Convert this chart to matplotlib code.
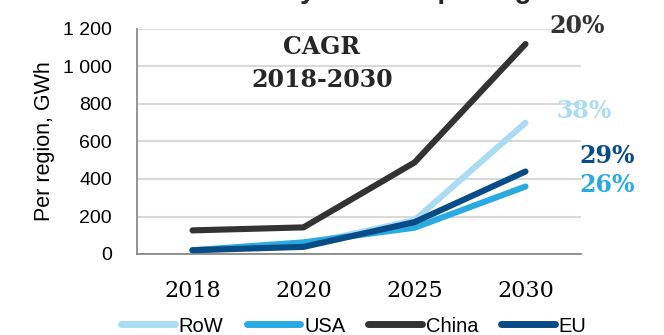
import matplotlib
matplotlib.use("Agg")
import matplotlib.pyplot as plt
import numpy as np

years = ["2018", "2020", "2025", "2030"]
row = [20, 50, 180, 700]
usa = [20, 62, 140, 360]
china = [126, 142, 488, 1120]
eu = [20, 38, 170, 440]
series_names = ["RoW", "USA", "China", "EU"]
cagr = ["38%", "26%", "20%", "29%"]
yticks = [0, 200, 400, 600, 800, 1000, 1200]
ytick_labels = ["0", "200", "400", "600", "800", "1 000", "1 200"]

colors = ["#a9dcf3", "#29abe2", "#333333", "#074b87"]

W, H = 664, 335
fig = plt.figure(figsize=(W / 100, H / 100), dpi=100)
ax = fig.add_axes([137 / W, (H - 254) / H, (581 - 137) / W, (254 - 29) / H])

x = np.arange(len(years))
for vals, name, c in zip([row, usa, china, eu], series_names, colors):
    ax.plot(x, vals, color=c, lw=4.4, solid_capstyle="round",
            solid_joinstyle="miter", label=name, zorder=3)

ax.set_xlim(-0.5, len(years) - 0.5)
ax.set_ylim(0, 1200)
ax.set_yticks(yticks)
ax.set_yticklabels(ytick_labels, family="Liberation Sans", fontsize=14)
ax.set_xticks(x)
ax.set_xticklabels(years, family="DejaVu Serif", fontsize=16)
ax.tick_params(axis="both", length=0)
ax.tick_params(axis="y", pad=18)
ax.tick_params(axis="x", pad=19)
ax.grid(axis="y", color="#d9d9d9", lw=1.5, zorder=0)
ax.set_axisbelow(True)
for s in ["top", "right"]:
    ax.spines[s].set_visible(False)
for s in ["left", "bottom"]:
    ax.spines[s].set_color("#808080")
    ax.spines[s].set_linewidth(1.2)
ax.set_ylabel("Per region, GWh", family="Liberation Sans", fontsize=15.5, labelpad=6)

# CAGR annotation
fig.text(322 / W, 1 - 47 / H, "CAGR", ha="center", va="center",
         family="DejaVu Serif", fontweight="bold", fontsize=17, color="#262626")
fig.text(322 / W, 1 - 80 / H, "2018-2030", ha="center", va="center",
         family="DejaVu Serif", fontweight="bold", fontsize=17, color="#262626")

label_pos = {"20%": (549, 26), "38%": (556, 111), "29%": (579, 156), "26%": (579, 185)}
for name, pct, c in zip(series_names, cagr, colors):
    px, py = label_pos[pct]
    fig.text(px / W, 1 - py / H, pct, ha="left", va="center", family="DejaVu Serif",
             fontweight="bold", fontsize=17, color=c)

# title, clipped at the very top as in the reference
fig.text(220 / W, 1 + 2 / H, "Battery demand per region", ha="left", va="baseline",
         family="Liberation Sans", fontweight="bold", fontsize=20, color="#262626")

leg = ax.legend(loc="center", bbox_to_anchor=(354 / W, 1 - 326 / H),
                bbox_transform=fig.transFigure, ncol=4, frameon=False,
                prop={"family": "Liberation Sans", "size": 14.5},
                handlelength=2.65, handletextpad=0.2, columnspacing=1.15)
for h in leg.get_lines():
    h.set_linewidth(5)
    h.set_solid_capstyle("round")

fig.savefig("out.png", dpi=100)
